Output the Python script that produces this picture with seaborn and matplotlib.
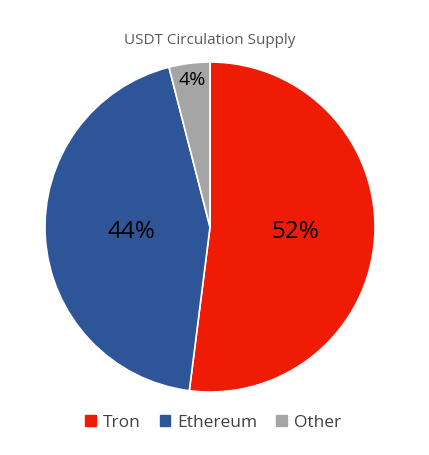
import matplotlib
matplotlib.use("Agg")
import matplotlib.pyplot as plt
import seaborn as sns
import numpy as np

categories = ["Tron", "Ethereum", "Other"]
values = [52, 44, 4]
pct_labels = ["52%", "44%", "4%"]
colors = ["#F01B05", "#2E5597", "#A5A5A5"]

sns.set_theme(style="white")
plt.rcParams['font.family'] = ['Open Sans', 'DejaVu Sans']
palette = sns.color_palette(colors)

fig = plt.figure(figsize=(4.29, 4.55), dpi=100)
fig.patch.set_facecolor("white")
ax = fig.add_axes([45/429, (455-392)/455, 330/429, 330/455])

wedges, _ = ax.pie(values, colors=palette, startangle=90, counterclock=False,
                   wedgeprops=dict(edgecolor="white", linewidth=1.2))
ax.set_xlim(-1, 1)
ax.set_ylim(-1, 1)
ax.set_aspect("equal")

dists = [0.52, 0.48, 0.89]
start = 90.0
total = sum(values)
for v, lab, d in zip(values, pct_labels, dists):
    ang = start - 360.0 * v / total / 2
    start -= 360.0 * v / total
    if lab == "4%":
        x, y, fs = -0.11, 0.89, 14
    else:
        x, y, fs = d*np.cos(np.radians(ang)), d*np.sin(np.radians(ang)), 17.5
    ax.text(x, y, lab, ha="center", va="center", fontsize=fs, color="black")

fig.text(210/429, 1 - 40/455, "USDT Circulation Supply", ha="center", va="center",
         fontsize=11, color="#595959")

handles = [plt.Rectangle((0, 0), 1, 1, color=c) for c in palette]
fig.legend(handles, categories, loc="center", bbox_to_anchor=(213/429, 1 - 423/455),
           ncol=3, frameon=False, fontsize=12.5, handlelength=0.6, handleheight=0.6,
           handletextpad=0.4, columnspacing=1.1, labelcolor="#404040")

fig.savefig("out.png", dpi=100, facecolor="white")
